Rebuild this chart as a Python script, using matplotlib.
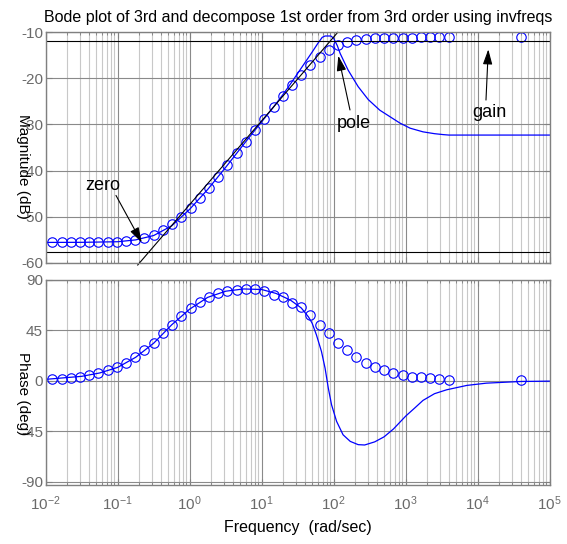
import matplotlib.pyplot as plt
import numpy as np

plt.rcParams['font.family'] = ['Liberation Sans', 'DejaVu Sans']
plt.rcParams['mathtext.fontset'] = 'custom'
plt.rcParams['mathtext.rm'] = 'Liberation Sans'
plt.rcParams['mathtext.it'] = 'Liberation Sans:italic'
plt.rcParams['axes.unicode_minus'] = False

# measured points (circles), frequency given as log10(rad/sec)
circ_wlog = [-1.908, -1.78, -1.652, -1.524, -1.396, -1.268, -1.14, -1.012, -0.884,
             -0.756, -0.628, -0.5, -0.372, -0.244, -0.116, 0.012, 0.14, 0.268,
             0.396, 0.524, 0.652, 0.78, 0.908, 1.036, 1.164, 1.292, 1.42, 1.548,
             1.676, 1.804, 1.932, 2.06, 2.188, 2.316, 2.444, 2.572, 2.7, 2.828,
             2.956, 3.084, 3.212, 3.34, 3.468, 3.596, 4.596]
circ_mag = [-55.6, -55.6, -55.6, -55.6, -55.55, -55.55, -55.5, -55.4, -55.3,
            -55.0, -54.6, -54.0, -53.0, -51.7, -50.0, -48.1, -46.0, -43.7,
            -41.3, -38.8, -36.3, -33.8, -31.3, -28.8, -26.3, -23.9, -21.5, -19.2,
            -17.1, -15.3, -13.8, -12.7, -12.0, -11.6, -11.4, -11.25, -11.2, -11.2,
            -11.15, -11.15, -11.1, -11.1, -11.1, -11.1, -11.1]
circ_phase = [1.5, 1.8, 2.8, 3.3, 4.8, 7.0, 9.6, 12.1, 15.8,
              21.0, 27.3, 33.6, 42.3, 50.0, 57.9, 64.8, 70.7, 75.2,
              78.1, 80.3, 81.2, 82.1, 82.1, 80.3, 76.9, 74.7, 69.9, 65.5,
              58.9, 50.0, 42.5, 33.6, 27.7, 20.9, 15.8, 11.9, 10.0, 7.2,
              5.1, 3.8, 3.4, 2.1, 2.0, 0.6, 0.6]

# 3rd order response (solid line)
line_mag_wlog = [-2.0, -1.5, -1.0, -0.75, -0.5, -0.25, 0.0, 0.25, 0.5, 0.75, 1.0,
                 1.15, 1.3, 1.4, 1.5, 1.6, 1.7, 1.78, 1.84, 1.88, 1.96, 2.0, 2.05,
                 2.09, 2.2, 2.34, 2.48, 2.64, 2.78, 2.92, 3.06, 3.24, 3.4, 3.52,
                 3.6, 5.0]
line_mag = [-55.6, -55.58, -55.45, -55.05, -54.1, -52.0, -48.4, -44.1, -39.3, -34.3,
            -29.4, -26.5, -23.4, -21.2, -18.9, -16.6, -14.3, -12.4, -11.1, -10.8,
            -10.8, -11.3, -12.9, -14.6, -18.2, -21.8, -24.6, -26.9, -28.3, -29.7,
            -30.8, -31.6, -32.0, -32.2, -32.3, -32.3]
line_ph_wlog = [-2.0, -1.5, -1.25, -1.0, -0.75, -0.5, -0.25, 0.0, 0.25, 0.5, 0.75,
                1.0, 1.2, 1.4, 1.55, 1.65, 1.7, 1.76, 1.83, 1.88, 1.925, 1.97, 2.04,
                2.13, 2.23, 2.34, 2.43, 2.57, 2.7, 2.83, 3.0, 3.13, 3.24, 3.4, 3.57,
                3.85, 4.12, 4.5, 4.6, 5.0]
line_phase = [1.3, 4.0, 7.0, 12.0, 21.0, 33.6, 50.0, 64.0, 74.5, 80.0, 82.0,
              81.5, 78.0, 72.0, 65.0, 57.0, 51.5, 41.0, 26.2, 11.3, -6.5, -21.4, -36.2,
              -48.2, -54.1, -57.0, -57.3, -54.5, -50.0, -43.0, -31.5, -24.0, -17.5,
              -11.5, -8.0, -4.1, -2.1, -0.9, -0.6, -0.3]

# first order decomposition: asymptote and levels
asym_wlog = [-0.722, 2.056]
asym_mag = [-60.5, -10.0]
gain_level = -11.8
zero_level = -57.6

fig = plt.figure(figsize=(5.67, 5.44), dpi=100)
ax1 = fig.add_axes([0.0806, 0.5171, 0.8889, 0.4235])
ax2 = fig.add_axes([0.0806, 0.1085, 0.8889, 0.3768])

blue = (0, 0, 1)
ax1.plot(10.0 ** np.array(line_mag_wlog), line_mag, color=blue, lw=0.9)
ax1.plot(10.0 ** np.array(circ_wlog), circ_mag, 'o', ms=6.8, mfc='none', mec=blue, mew=0.8)
ax1.axhline(gain_level, color='k', lw=0.8)
ax1.axhline(zero_level, color='k', lw=0.8)
ax1.plot(10.0 ** np.array(asym_wlog), asym_mag, color='k', lw=0.8, clip_on=False)

ax2.plot(10.0 ** np.array(line_ph_wlog), line_phase, color=blue, lw=0.9)
ax2.plot(10.0 ** np.array(circ_wlog), circ_phase, 'o', ms=6.8, mfc='none', mec=blue, mew=0.8)

for ax in (ax1, ax2):
    ax.set_xscale('log')
    ax.set_xlim(1e-2, 1e5)
    ax.set_xticks([10.0 ** k for k in range(-2, 6)])
    ax.xaxis.set_minor_locator(plt.LogLocator(base=10, subs=np.arange(2, 10), numticks=20))
    ax.grid(True, which='major', color='#8a8a8a', lw=0.8)
    ax.grid(True, which='minor', axis='x', color='#c8c8c8', lw=0.8)
    ax.set_axisbelow(True)
    ax.tick_params(which='both', direction='in', top=True, right=True,
                   color='#808080', labelcolor='#6a6a6a', labelsize=11)
    ax.tick_params(which='major', length=4)
    ax.tick_params(which='minor', length=2)
    ax.tick_params(axis='y', pad=2)
    ax.tick_params(axis='x', pad=7)
    for s in ax.spines.values():
        s.set_color('#808080')
        s.set_linewidth(1.0)

ax1.set_ylim(-60, -10)
ax1.set_yticks([-60, -50, -40, -30, -20, -10])
ax1.tick_params(labelbottom=False)
ax2.set_ylim(-93, 90)
ax2.set_yticks([-90, -45, 0, 45, 90])

ax1.set_title('Bode plot of 3rd and decompose 1st order from 3rd order using invfreqs',
              fontsize=11.5, pad=7.5)
ax2.set_xlabel('Frequency  (rad/sec)', fontsize=11.5, labelpad=5)
fig.text(23 / 567, 1 - 166 / 544, 'Magnitude (dB)', rotation=-90, ha='center', va='center', fontsize=11)
fig.text(23 / 567, 1 - 394 / 544, 'Phase (deg)', rotation=-90, ha='center', va='center', fontsize=11)

arrow = dict(arrowstyle='-|>,head_length=0.7,head_width=0.22', color='k', lw=0.8,
             shrinkA=0, shrinkB=0, mutation_scale=13)
ax1.text(10 ** -1.211, -43.3, 'zero', ha='center', va='center', fontsize=13)
ax1.annotate('', xy=(10 ** -0.667, -55.6), xytext=(10 ** -1.024, -45.4), arrowprops=arrow)
ax1.text(10 ** 2.275, -29.8, 'pole', ha='center', va='center', fontsize=13)
ax1.annotate('', xy=(10 ** 2.064, -15.1), xytext=(10 ** 2.226, -26.85), arrowprops=arrow)
ax1.text(10 ** 4.157, -27.5, 'gain', ha='center', va='center', fontsize=13)
ax1.annotate('', xy=(10 ** 4.147, -13.7), xytext=(10 ** 4.115, -24.7), arrowprops=arrow)

fig.savefig('out.png', dpi=100)
